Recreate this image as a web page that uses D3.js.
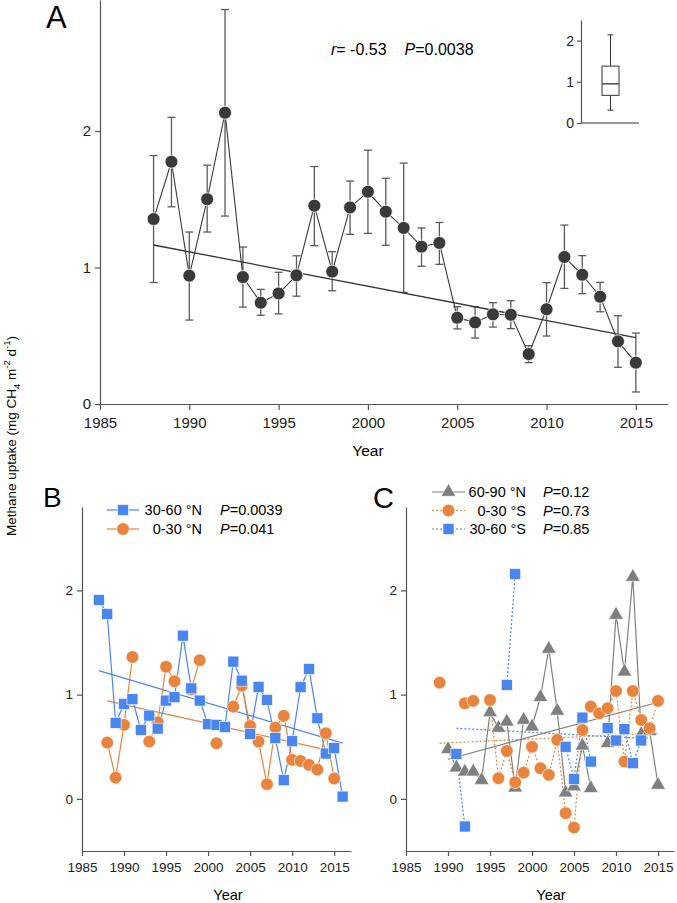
<!DOCTYPE html>
<html>
<head>
<meta charset="utf-8">
<script src="https://cdn.jsdelivr.net/npm/d3@7"></script>
<style>
  body { margin: 0; background: #fff; }
  svg { font-family: "Liberation Sans", Arial, sans-serif; }
  .axis path, .axis line { stroke: #555; stroke-width: 1.2; }
  .axis text { fill: #222; }
</style>
</head>
<body>
<div id="chart"></div>
<script>
// ---- panel A: global mean uptake with error bars
const yearsA = [1988,1989,1990,1991,1992,1993,1994,1995,1996,1997,1998,1999,2000,2001,
  2002,2003,2004,2005,2006,2007,2008,2009,2010,2011,2012,2013,2014,2015];
const meanA = [1.355,1.775,0.94,1.50,2.134,0.93,0.742,0.81,0.943,1.453,0.97,1.44,1.555,1.409,
  1.29,1.153,1.18,0.632,0.598,0.657,0.654,0.366,0.694,1.077,0.947,0.786,0.459,0.303];
const upperA = [1.82,2.10,1.26,1.75,2.89,1.15,0.84,0.965,1.086,1.74,1.116,1.634,1.86,1.654,
  1.765,1.29,1.33,0.713,0.713,0.742,0.757,0.427,0.889,1.311,1.087,0.891,0.647,0.52];
const lowerA = [0.89,1.445,0.615,1.26,1.377,0.71,0.65,0.66,0.79,1.16,0.83,1.243,1.25,1.163,
  0.818,1.009,1.023,0.55,0.483,0.564,0.552,0.303,0.498,0.847,0.808,0.676,0.269,0.088];
const trendA = [[1988,1.165],[2015,0.486]];
const boxStats = [0.31,0.67,0.95,1.38,2.14]; // min, q1, median, q3, max

// ---- panel B
const yearsB = [1987,1988,1989,1990,1991,1992,1993,1994,1995,1996,1997,1998,1999,2000,2001,
  2002,2003,2004,2005,2006,2007,2008,2009,2010,2011,2012,2013,2014,2015,2016];
const n30_60 = [1.908,1.774,0.729,0.911,0.956,0.662,0.799,0.674,0.943,0.975,1.566,1.06,0.943,0.716,0.71,
  0.69,1.317,1.134,0.623,1.074,0.949,0.582,0.179,0.553,1.071,1.246,0.773,0.435,0.486,0.022];
const n0_30 = [null,0.54,0.204,0.71,1.361,null,0.55,0.735,1.268,1.128,null,1.05,1.33,null,0.534,
  null,0.885,1.086,0.70,0.55,0.141,0.684,0.796,0.374,0.364,0.326,0.281,0.63,0.195,null];
const trendB1 = [[1987,1.23],[2016,0.535]];
const trendB2 = [[1988,0.94],[2015,0.453]];

// ---- panel C
const yearsC = [1989,1990,1991,1992,1993,1994,1995,1996,1997,1998,1999,2000,2001,2002,
  2003,2004,2005,2006,2007,2008,2009,2010,2011,2012,2013,2014,2015];
const n60_90 = [null,0.476,0.30,0.26,0.26,0.18,0.83,0.68,0.74,0.108,0.757,0.693,0.975,1.438,
  0.844,0.06,0.118,0.51,0.102,null,0.534,1.764,1.22,2.128,0.62,0.65,0.134];
const s0_30 = [1.115,null,null,0.917,0.94,null,0.949,0.198,0.46,0.16,0.252,0.50,0.294,0.23,
  0.566,-0.137,-0.275,0.66,0.885,0.82,0.87,1.035,0.358,1.035,0.757,0.678,0.94];
const s30_60 = [null,null,0.431,-0.265,null,null,null,null,1.093,2.157,null,null,null,null,
  null,0.50,0.192,0.78,0.358,null,0.678,0.56,0.668,0.342,0.56,null,null];
const trendC1 = [[1990,0.38],[2015,0.927]];
const trendC2 = [[1989,0.534],[2015,0.63]];
const trendC3 = [[1991,0.678],[2013,0.58]];

const blue = "#4a86f0", orange = "#e8843e", gray = "#7f7f7f", dark = "#3a3a3a";

const svg = d3.select("#chart").append("svg").attr("width", 677).attr("height", 903);

// ================= Panel A =================
const xA = d3.scaleLinear().domain([1985, 2016.8]).range([100, 668]);
const yA = d3.scaleLinear().domain([0, 2.96]).range([404, 0]);

svg.append("g").attr("class", "axis").attr("transform", "translate(0,404)")
  .call(d3.axisBottom(xA).tickValues([1985,1990,1995,2000,2005,2010,2015])
    .tickFormat(d3.format("d")).tickSize(6).tickPadding(7).tickSizeOuter(0))
  .selectAll("text").style("font-size", "15px");
svg.append("g").attr("class", "axis").attr("transform", "translate(100,0)")
  .call(d3.axisLeft(yA).tickValues([0,1,2]).tickFormat(d3.format("d")).tickSize(5).tickPadding(4).tickSizeOuter(0))
  .selectAll("text").style("font-size", "15px");

const ptsA = yearsA.map((y, i) => ({year: y, v: meanA[i], hi: upperA[i], lo: lowerA[i]}));

// error bars
const eb = svg.append("g").attr("stroke", "#5a5a5a").attr("stroke-width", 1.3);
ptsA.forEach(d => {
  eb.append("line").attr("x1", xA(d.year)).attr("x2", xA(d.year)).attr("y1", yA(d.lo)).attr("y2", yA(d.hi));
  [d.lo, d.hi].forEach(v => eb.append("line")
    .attr("x1", xA(d.year) - 4).attr("x2", xA(d.year) + 4).attr("y1", yA(v)).attr("y2", yA(v)));
});

svg.append("path").datum(ptsA)
  .attr("fill", "none").attr("stroke", dark).attr("stroke-width", 1.1)
  .attr("d", d3.line().x(d => xA(d.year)).y(d => yA(d.v)));

svg.append("path").datum(trendA)
  .attr("fill", "none").attr("stroke", "#333").attr("stroke-width", 1.3)
  .attr("d", d3.line().x(d => xA(d[0])).y(d => yA(d[1])));

svg.append("g").selectAll("circle").data(ptsA).join("circle")
  .attr("cx", d => xA(d.year)).attr("cy", d => yA(d.v)).attr("r", 6.5)
  .attr("fill", dark).attr("stroke", "#fff").attr("stroke-width", 0.8);

svg.append("text").attr("x", 46).attr("y", 28).style("font-size", "31px").text("A");

const stat = svg.append("text").attr("x", 331).attr("y", 55).style("font-size", "16px");
stat.append("tspan").style("font-style", "italic").text("r");
stat.append("tspan").text("= -0.53");
stat.append("tspan").attr("dx", 18).style("font-style", "italic").text("P");
stat.append("tspan").text("=0.0038");

svg.append("text").attr("x", 368).attr("y", 456).attr("text-anchor", "middle")
  .style("font-size", "15.5px").text("Year");

// inset box plot
const yIn = d3.scaleLinear().domain([0, 2.5]).range([123, 20]);
const gIn = svg.append("g");
gIn.append("g").attr("class", "axis").attr("transform", "translate(581,0)")
  .call(d3.axisLeft(yIn).tickValues([0,1,2]).tickFormat(d3.format("d")).tickSize(4).tickPadding(3).tickSizeOuter(0))
  .selectAll("text").style("font-size", "14px");
gIn.append("line").attr("x1", 581).attr("x2", 639).attr("y1", yIn(0)).attr("y2", yIn(0))
  .attr("stroke", "#333").attr("stroke-width", 1.2);
const bx0 = 602, bx1 = 619, bxm = (bx0 + bx1) / 2;
gIn.append("line").attr("x1", bxm).attr("x2", bxm).attr("y1", yIn(boxStats[0])).attr("y2", yIn(boxStats[1])).attr("stroke", "#333");
gIn.append("line").attr("x1", bxm).attr("x2", bxm).attr("y1", yIn(boxStats[3])).attr("y2", yIn(boxStats[4])).attr("stroke", "#333");
[boxStats[0], boxStats[4]].forEach(v => gIn.append("line")
  .attr("x1", bxm - 3).attr("x2", bxm + 3).attr("y1", yIn(v)).attr("y2", yIn(v)).attr("stroke", "#333"));
gIn.append("rect").attr("x", bx0).attr("width", bx1 - bx0)
  .attr("y", yIn(boxStats[3])).attr("height", yIn(boxStats[1]) - yIn(boxStats[3]))
  .attr("fill", "#fff").attr("stroke", "#555").attr("stroke-width", 1.2);
gIn.append("line").attr("x1", bx0).attr("x2", bx1).attr("y1", yIn(boxStats[2])).attr("y2", yIn(boxStats[2]))
  .attr("stroke", "#555").attr("stroke-width", 1.6);

// shared y label
const yl = svg.append("text").attr("transform", "translate(16,436) rotate(-90)")
  .attr("text-anchor", "middle").style("font-size", "13.5px");
yl.append("tspan").text("Methane uptake (mg CH");
yl.append("tspan").attr("dy", 4).style("font-size", "9.5px").text("4");
yl.append("tspan").attr("dy", -4).text(" m");
yl.append("tspan").attr("dy", -6).style("font-size", "9.5px").text("-2");
yl.append("tspan").attr("dy", 6).text(" d");
yl.append("tspan").attr("dy", -6).style("font-size", "9.5px").text("-1");
yl.append("tspan").attr("dy", 6).text(")");

// ================= helpers for B and C =================
function marker(g, shape, cx, cy, color) {
  if (shape === "square") {
    g.append("rect").attr("x", cx - 5.5).attr("y", cy - 5.5).attr("width", 11).attr("height", 11)
      .attr("fill", color).attr("stroke", "#fff").attr("stroke-width", 0.6);
  } else if (shape === "circle") {
    g.append("circle").attr("cx", cx).attr("cy", cy).attr("r", 6.3)
      .attr("fill", color).attr("stroke", "#fff").attr("stroke-width", 0.6);
  } else {
    g.append("path").attr("transform", `translate(${cx},${cy})`)
      .attr("d", d3.symbol(d3.symbolTriangle, 95)())
      .attr("fill", color).attr("stroke", "#fff").attr("stroke-width", 0.6);
  }
}

function series(g, x, y, years, vals, color, shape, dash) {
  const pts = years.map((yr, i) => ({year: yr, v: vals[i]}));
  g.append("path").datum(pts)
    .attr("fill", "none").attr("stroke", color).attr("stroke-width", 1.2)
    .attr("stroke-dasharray", dash ? "2,2" : null)
    .attr("d", d3.line().defined(d => d.v !== null).x(d => x(d.year)).y(d => y(d.v)));
  return pts.filter(d => d.v !== null);
}

function trend(g, x, y, pts, color, dash) {
  g.append("path").datum(pts)
    .attr("fill", "none").attr("stroke", color).attr("stroke-width", 1.2)
    .attr("stroke-dasharray", dash ? "2,2" : null)
    .attr("d", d3.line().x(d => x(d[0])).y(d => y(d[1])));
}

function frame(x, y, x0, xTicks) {
  svg.append("g").attr("class", "axis").attr("transform", "translate(0,851)")
    .call(d3.axisBottom(x).tickValues(xTicks).tickFormat(d3.format("d")).tickSize(5).tickPadding(6).tickSizeOuter(0))
    .selectAll("text").style("font-size", "13.5px");
  svg.append("g").attr("class", "axis").attr("transform", `translate(${x0},0)`)
    .call(d3.axisLeft(y).tickValues([0,1,2]).tickFormat(d3.format("d")).tickSize(5).tickPadding(4).tickSizeOuter(0))
    .selectAll("text").style("font-size", "13.5px");
}

function legendRow(g, y, x0, x1, xEnd, xP, color, shape, dash, label, pval) {
  g.append("line").attr("x1", x0).attr("x2", x1).attr("y1", y).attr("y2", y)
    .attr("stroke", color).attr("stroke-width", 1.2).attr("stroke-dasharray", dash ? "2,2" : null);
  marker(g, shape, (x0 + x1) / 2, y, color);
  g.append("text").attr("x", xEnd).attr("y", y + 5).attr("text-anchor", "end")
    .style("font-size", "14.5px").text(label);
  const t = g.append("text").attr("x", xP).attr("y", y + 5).style("font-size", "14.5px");
  t.append("tspan").style("font-style", "italic").text("P");
  t.append("tspan").text(pval);
}

const xTicks = [1985,1990,1995,2000,2005,2010,2015];

// ================= Panel B =================
const xB = d3.scaleLinear().domain([1985, 2017]).range([82, 351]);
const yB = d3.scaleLinear().domain([-0.5, 2.8]).range([851, 507]);
frame(xB, yB, 82, xTicks);

const gB = svg.append("g");
trend(gB, xB, yB, trendB1, blue, false);
trend(gB, xB, yB, trendB2, orange, false);
const pB1 = series(gB, xB, yB, yearsB, n30_60, blue, "square", false);
const pB2 = series(gB, xB, yB, yearsB, n0_30, orange, "circle", false);
pB2.forEach(d => marker(gB, "circle", xB(d.year), yB(d.v), orange));
pB1.forEach(d => marker(gB, "square", xB(d.year), yB(d.v), blue));

svg.append("text").attr("x", 43).attr("y", 507).style("font-size", "28px").text("B");
svg.append("text").attr("x", 228).attr("y", 900).attr("text-anchor", "middle").style("font-size", "14.5px").text("Year");

const lgB = svg.append("g");
legendRow(lgB, 510, 107, 139, 202, 220, blue, "square", false, "30-60 °N", "=0.0039");
legendRow(lgB, 529, 107, 139, 202, 220, orange, "circle", false, "0-30 °N", "=0.041");

// ================= Panel C =================
const xC = d3.scaleLinear().domain([1985, 2016.9]).range([406, 674]);
const yC = d3.scaleLinear().domain([-0.5, 2.8]).range([851, 507]);
frame(xC, yC, 406, xTicks);

const gC = svg.append("g");
trend(gC, xC, yC, trendC2, orange, true);
trend(gC, xC, yC, trendC3, blue, true);
trend(gC, xC, yC, trendC1, gray, false);
const pC1 = series(gC, xC, yC, yearsC, n60_90, gray, "triangle", false);
const pC2 = series(gC, xC, yC, yearsC, s0_30, orange, "circle", true);
const pC3 = series(gC, xC, yC, yearsC, s30_60, blue, "square", true);
pC1.forEach(d => marker(gC, "triangle", xC(d.year), yC(d.v), gray));
pC2.forEach(d => marker(gC, "circle", xC(d.year), yC(d.v), orange));
pC3.forEach(d => marker(gC, "square", xC(d.year), yC(d.v), blue));

svg.append("text").attr("x", 373).attr("y", 508).style("font-size", "29px").text("C");
svg.append("text").attr("x", 551).attr("y", 900).attr("text-anchor", "middle").style("font-size", "14.5px").text("Year");

const lgC = svg.append("g");
legendRow(lgC, 492, 432, 465, 526, 543, gray, "triangle", false, "60-90 °N", "=0.12");
legendRow(lgC, 510.5, 432, 465, 526, 543, orange, "circle", true, "0-30 °S", "=0.73");
legendRow(lgC, 529, 432, 465, 526, 543, blue, "square", true, "30-60 °S", "=0.85");
</script>
</body>
</html>
